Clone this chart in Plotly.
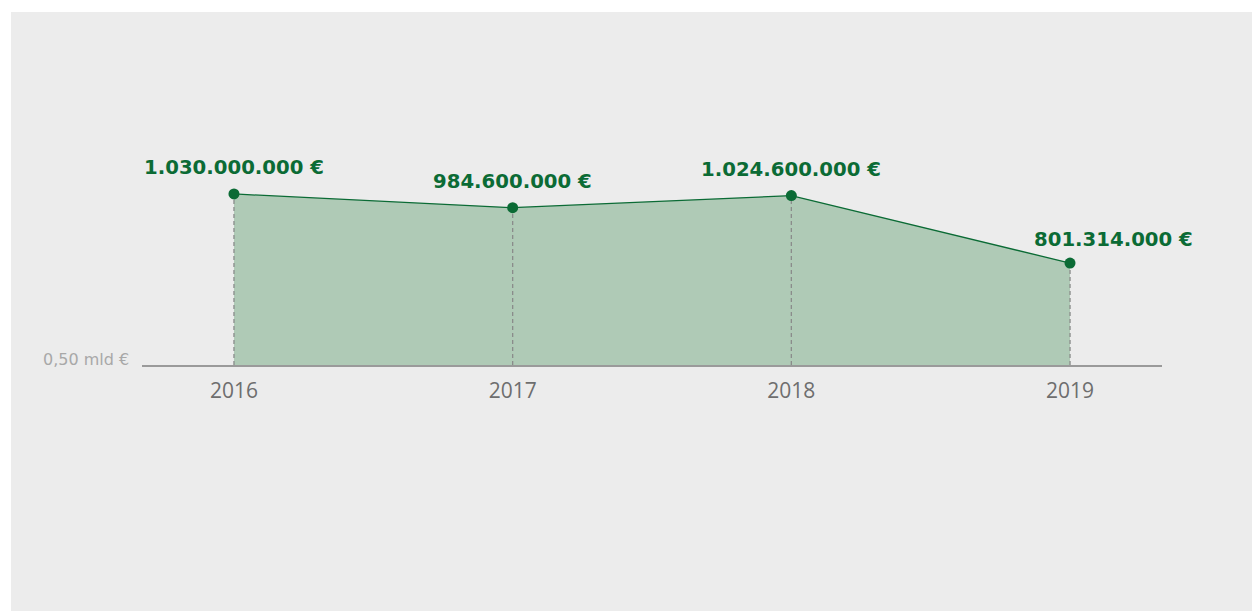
import plotly.graph_objects as go

years = [2016, 2017, 2018, 2019]
values = [1030000000, 984600000, 1024600000, 801314000]
tick_labels = ["2016", "2017", "2018", "2019"]
y_label = "0,50 mld €"

Y_MIN = 464e6
Y_MAX = 1341e6

# label placement tweaks (style)
label_xshift = [0, 0, 0, 43]
label_yshift = [26, 26, 26, 24]

def fmt(v):
    return f"{v:,}".replace(",", ".") + " €"

W, H = 1252, 611
L, R, T, B = 142, 90, 100, 246
pw, ph = W - L - R, H - T - B

def px_x(p):
    return (p - L) / pw

def px_y(p):
    return (H - B - p) / ph

fig = go.Figure()

fig.add_trace(go.Scatter(
    x=years, y=values, mode="lines", fill="tozeroy",
    fillcolor="#afcab6", line=dict(color="#0b6b35", width=1.3),
    hoverinfo="skip", showlegend=False))

dx, dy = [], []
for x, v in zip(years, values):
    dx += [x, x, None]
    dy += [Y_MIN, v, None]
fig.add_trace(go.Scatter(
    x=dx, y=dy, mode="lines", line=dict(color="#8a8c8b", width=1.3, dash="4px,3px"),
    hoverinfo="skip", showlegend=False))

fig.add_trace(go.Scatter(
    x=years, y=values, mode="markers",
    marker=dict(color="#0b6b35", size=11),
    hoverinfo="skip", showlegend=False))

for x, v, xs, ys in zip(years, values, label_xshift, label_yshift):
    fig.add_annotation(x=x, y=v, text=f"<b>{fmt(v)}</b>", showarrow=False,
                       xshift=xs, yshift=ys,
                       font=dict(family="DejaVu Sans", size=19.7, color="#0b6b35"))

fig.add_annotation(xref="paper", yref="paper", x=px_x(131), y=px_y(359),
                   xanchor="right", yanchor="middle", text=y_label, showarrow=False,
                   font=dict(family="DejaVu Sans", size=16, color="#a8a8a8"))

fig.add_shape(type="rect", xref="paper", yref="paper",
              x0=px_x(11), x1=px_x(1260), y0=px_y(620), y1=px_y(12),
              fillcolor="#ececec", line=dict(width=0), layer="below")

fig.update_layout(
    width=W, height=H,
    margin=dict(l=L, r=R, t=T, b=B),
    paper_bgcolor="white", plot_bgcolor="rgba(0,0,0,0)",
    xaxis=dict(range=[2015.67, 2019.33], tickvals=years, ticktext=tick_labels,
               showgrid=False, zeroline=False, showline=True, linecolor="#9a9a9a",
               linewidth=2, ticks="", ticklen=0, ticklabelstandoff=6,
               tickfont=dict(family="Open Sans", size=21, color="#6e6e6e")),
    yaxis=dict(range=[Y_MIN, Y_MAX], showgrid=False, zeroline=False,
               showticklabels=False, showline=False),
)

fig.write_html("out.html", config={"displayModeBar": False},
               post_script="document.body.style.margin='0';document.body.style.overflow='hidden';")
